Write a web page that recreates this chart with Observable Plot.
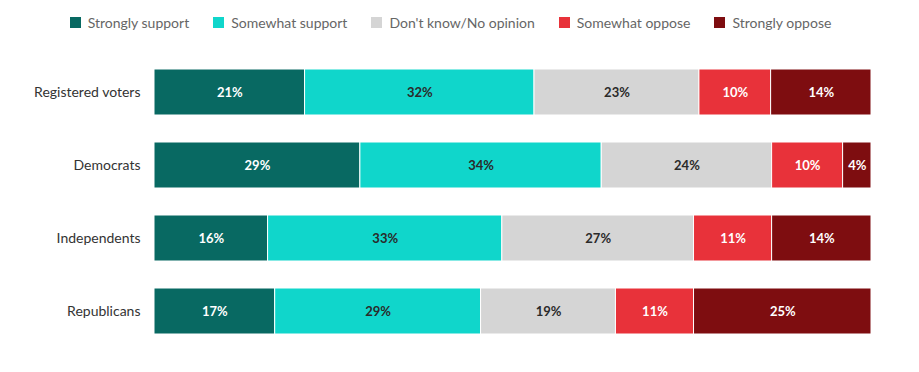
<!DOCTYPE html>
<html>
<head>
<meta charset="utf-8">
<script src="https://cdn.jsdelivr.net/npm/d3@7"></script>
<script src="https://cdn.jsdelivr.net/npm/@observablehq/plot@0.6"></script>
<style>
  body { margin: 0; background: #fff; font-family: Lato, "Open Sans", sans-serif; }
  #legend { height: 45px; display: flex; align-items: center; justify-content: center; padding-left: 6px; box-sizing: border-box; font-size: 14px; color: #666; }
  #legend .item { display: flex; align-items: center; margin-right: 24px; }
  #legend .sw { width: 11px; height: 11px; margin-right: 7px; display: inline-block; }
  #chart svg { display: block; }
</style>
</head>
<body>
<div id="legend"></div>
<div id="chart"></div>
<script>
const groups = ["Registered voters", "Democrats", "Independents", "Republicans"];
const categories = ["Strongly support", "Somewhat support", "Don't know/No opinion", "Somewhat oppose", "Strongly oppose"];
const colors = ["#086962", "#10d6cb", "#d5d5d5", "#e8323a", "#7e0d10"];
const labelColors = ["#fff", "#2a2a2a", "#2a2a2a", "#fff", "#fff"];
const stronglySupport = [21, 29, 16, 17];
const somewhatSupport = [32, 34, 33, 29];
const dontKnow = [23, 24, 27, 19];
const somewhatOppose = [10, 10, 11, 11];
const stronglyOppose = [14, 4, 14, 25];

const series = [stronglySupport, somewhatSupport, dontKnow, somewhatOppose, stronglyOppose];
const data = [];
groups.forEach((g, i) => {
  categories.forEach((c, j) => {
    data.push({group: g, category: c, value: series[j][i]});
  });
});

// legend
const legend = document.getElementById("legend");
categories.forEach((c, j) => {
  const it = document.createElement("div");
  it.className = "item";
  const sw = document.createElement("span");
  sw.className = "sw";
  sw.style.background = colors[j];
  it.appendChild(sw);
  it.appendChild(document.createTextNode(c));
  legend.appendChild(it);
});

const stackOpts = {offset: "normalize", order: categories, z: "category"};

const chart = Plot.plot({
  width: 919,
  height: 327,
  marginLeft: 154,
  marginRight: 48,
  marginTop: 16,
  marginBottom: 31,
  style: {fontFamily: "Lato, 'Open Sans', sans-serif", fontSize: "14px", color: "#333"},
  x: {axis: null, domain: [0, 1]},
  y: {domain: groups, paddingInner: 0.37, paddingOuter: 0.1, label: null, tickSize: 0, tickPadding: 14},
  color: {domain: categories, range: colors},
  marks: [
    Plot.barX(data, Plot.stackX({...stackOpts, x: "value", y: "group", fill: "category", stroke: "white", strokeWidth: 1})),
    Plot.textX(data, Plot.stackX({...stackOpts, x: "value", y: "group",
      text: d => d.value + "%",
      fill: d => labelColors[categories.indexOf(d.category)],
      fontWeight: "bold", fontSize: 13})),
    Plot.axisY({tickSize: 0, tickPadding: 14, label: null, fontSize: 14, color: "#333"})
  ]
});
document.getElementById("chart").appendChild(chart);
</script>
</body>
</html>
